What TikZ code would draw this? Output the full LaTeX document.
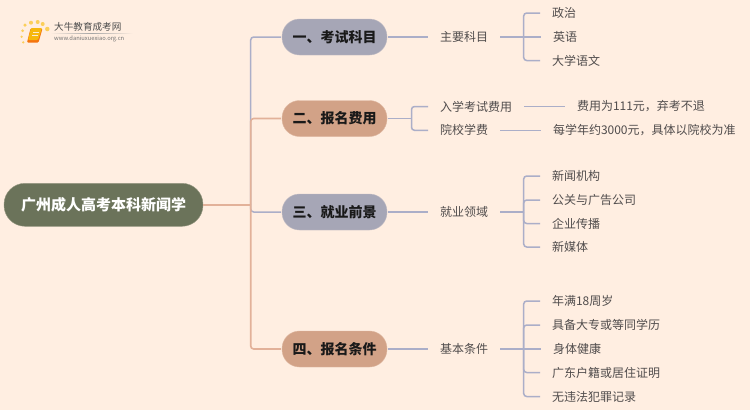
\documentclass[tikz,border=0pt]{standalone}
\usepackage{fontspec}
\setmainfont{Noto Sans CJK SC}
\usepackage{xcolor}
\usetikzlibrary{positioning}
\definecolor{PageCream}{HTML}{FFEEE1}
\definecolor{RootOlive}{HTML}{6B735A}
\definecolor{SlatePill}{HTML}{A6A6B6}
\definecolor{ClayPill}{HTML}{D2A287}
\definecolor{SlateLine}{HTML}{ABAEC8}
\definecolor{ClayLine}{HTML}{E2B199}
\definecolor{LeafText}{HTML}{504C4C}
\definecolor{BookOrange}{HTML}{F29A12}
\definecolor{DotYellow}{HTML}{FBCF5A}
\begin{document}
\begin{tikzpicture}[x=1pt,y=-1pt,
	root/.style={draw=RootOlive!70!PageCream,fill=RootOlive,rounded corners=21pt,minimum width=199pt,minimum height=43pt,inner sep=0pt,outer sep=0pt,text=white,font=\fontsize{15}{18}\bfseries},
	branch/.style={draw=#1!70!PageCream,fill=#1,rounded corners=17.5pt,minimum width=105pt,minimum height=36pt,inner sep=0pt,outer sep=0pt,text=black!90,font=\fontsize{14}{16}\bfseries},
	leaf/.style={inner xsep=12pt,inner ysep=2pt,outer sep=0pt,text=LeafText,font=\fontsize{12}{14}\selectfont},
	link/.style={draw=SlateLine,line width=1.5pt,rounded corners=3pt},
	trunk/.style={draw=ClayLine,line width=1.6pt,rounded corners=3pt,shorten >=1pt},
	dot/.style={circle,fill=DotYellow,inner sep=0pt,minimum size=#1}]
\fill[PageCream] (0,0) rectangle (750,410);
\useasboundingbox (0,0) rectangle (750,410);
% logo
\node[dot=2.5pt] (d1) at (23.3,42.3) {};
\node[dot=2.5pt] (d2) at (21.7,36.7) {};
\node[dot=3pt] (d3) at (22.7,30.7) {};
\node[dot=3.5pt] (d4) at (25,25) {};
\node[dot=4pt] (d5) at (31,22.7) {};
\node[dot=4pt] (d6) at (37.7,22) {};
\node[dot=4pt] (d7) at (42.7,24) {};
\node[dot=4.5pt] (d8) at (47.3,29) {};
\fill[BookOrange!75!red,rounded corners=1pt] (30.5,28.5) -- (42.5,28.5) -- (38.5,42.5) -- (27,42.5) -- cycle;
\fill[BookOrange!70!yellow,rounded corners=1pt] (31,28) -- (42,28) -- (38,40) -- (28,40) -- cycle;
\draw[white!80!BookOrange,line width=.6pt] (33,32) -- (38.5,32) (32.2,35) -- (37.7,35);
\node[anchor=west,inner sep=0pt,text=black!70,font=\fontsize{9.6}{11}\selectfont] (logoname) at (54,27) {大牛教育成考网};
\shade[left color=PageCream,right color=PageCream,middle color=black!35] (50,33.2) rectangle (133,33.9);
\node[anchor=west,inner sep=0pt,text=black!55,font=\fontsize{5.8}{7}\selectfont] (logourl) at (54,39) {www.daniuxuexiao.org.cn};
% main nodes
\node[root] (r) at (103.5,204.8) {广州成人高考本科新闻学};
\node[branch=SlatePill] (b1) at (334.5,37) {一、考试科目};
\node[branch=ClayPill] (b2) at (334.5,118.5) {二、报名费用};
\node[branch=SlatePill] (b3) at (334.5,212) {三、就业前景};
\node[branch=ClayPill] (b4) at (334.5,349) {四、报名条件};
\coordinate (hub) at (250.7,204.8);
% first level
\node[leaf,right=41pt of b1] (m1) {主要科目};
\node[leaf,anchor=west] (m2a) at (428,106.5) {入学考试费用};
\node[leaf,anchor=west] (m2b) at (428,130.3) {院校学费};
\node[leaf,right=41pt of b3] (m3) {就业领域};
\node[leaf,right=41pt of b4] (m4) {基本条件};
% second level
\node[leaf,anchor=west] (a1) at (540,13) {政治};
\node[leaf,right=41pt of m1] (a2) {英语};
\node[leaf,anchor=west] (a3) at (540,60.5) {大学语文};
\node[leaf,right=41pt of m2a] (c1) {费用为111元，弃考不退};
\node[leaf,right=41pt of m2b] (c2) {每学年约3000元，具体以院校为准};
\node[leaf,anchor=west] (e1) at (540,176) {新闻机构};
\node[leaf,anchor=west] (e2) at (540,200) {公关与广告公司};
\node[leaf,anchor=west] (e3) at (540,223.5) {企业传播};
\node[leaf,anchor=west] (e4) at (540,247) {新媒体};
\node[leaf,anchor=west] (f1) at (540,301) {年满18周岁};
\node[leaf,anchor=west] (f2) at (540,325) {具备大专或等同学历};
\node[leaf,right=41pt of m4] (f3) {身体健康};
\node[leaf,anchor=west] (f4) at (540,372.5) {广东户籍或居住证明};
\node[leaf,anchor=west] (f5) at (540,396.5) {无违法犯罪记录};
\coordinate (k1) at (411.5,0 |- b2.east);
\coordinate (k2) at (523.7,0 |- m1.east);
\coordinate (k3) at (523.7,0 |- m3.east);
\coordinate (k4) at (523.7,0 |- m4.east);
% trunk, slate goes under clay
\draw[link,shorten >=1pt] (hub) |- (b1.west);
\draw[link,shorten >=1pt] (hub) |- (b3.west);
\draw[trunk] (hub) |- (b2.west);
\draw[trunk] (hub) |- (b4.west);
\draw[trunk,rounded corners=0pt,shorten >=0pt] (r.east) -- (hub);
% branch to first level
\draw[link,shorten <=1pt] (b1.east) -- (m1.west);
\draw[link,shorten <=1pt] (b2.east) -- (k1);
\draw[link] (k1) |- (m2a.west);
\draw[link] (k1) |- (m2b.west);
\draw[link,shorten <=1pt] (b3.east) -- (m3.west);
\draw[link,shorten <=1pt] (b4.east) -- (m4.west);
% first to second level
\draw[link] (m1.east) -- (a2.west);
\draw[link] (k2) |- (a1.west);
\draw[link] (k2) |- (a3.west);
\draw[link] (m2a.east) -- (c1.west);
\draw[link] (m2b.east) -- (c2.west);
\draw[link] (m3.east) -- (k3);
\draw[link] (k3) |- (e1.west);
\draw[link] (k3) |- (e2.west);
\draw[link] (k3) |- (e3.west);
\draw[link] (k3) |- (e4.west);
\draw[link] (m4.east) -- (f3.west);
\draw[link] (k4) |- (f1.west);
\draw[link] (k4) |- (f2.west);
\draw[link] (k4) |- (f4.west);
\draw[link] (k4) |- (f5.west);
\end{tikzpicture}
\end{document}
